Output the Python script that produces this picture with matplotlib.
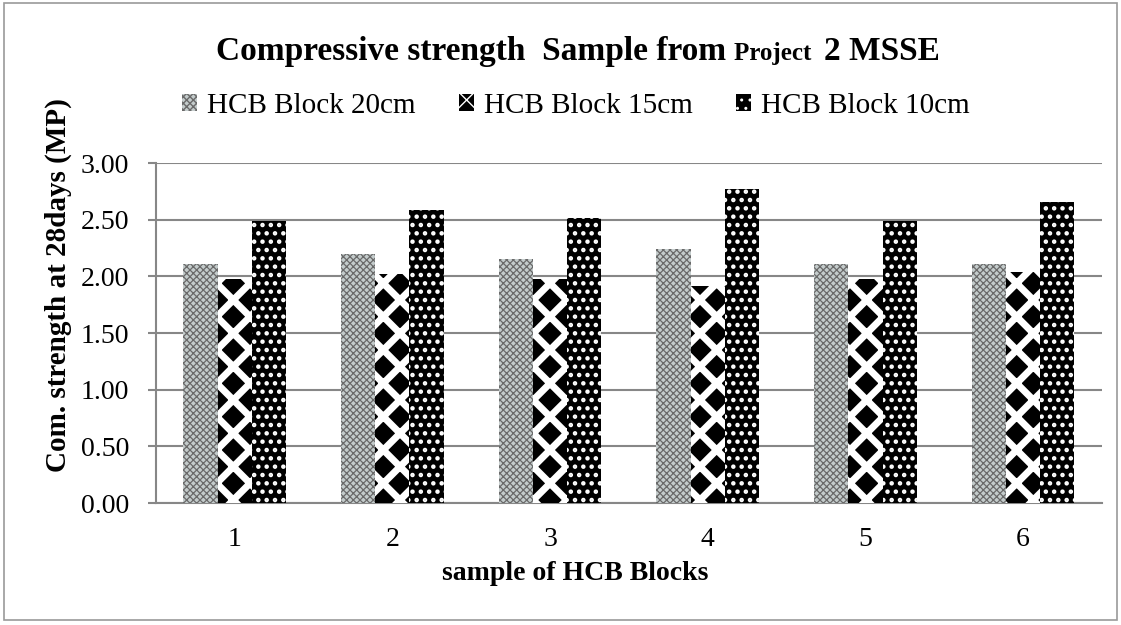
import numpy as np
import matplotlib
matplotlib.use("Agg")
import matplotlib.pyplot as plt
from matplotlib.patches import Rectangle

# compressive strength at 28 days (MPa) for each sample
samples = ["1", "2", "3", "4", "5", "6"]
block_20cm = [2.11, 2.20, 2.15, 2.24, 2.11, 2.11]
block_15cm = [1.98, 2.02, 1.98, 1.92, 1.98, 2.04]
block_10cm = [2.49, 2.59, 2.52, 2.77, 2.49, 2.66]
series_names = ["HCB Block 20cm", "HCB Block 15cm", "HCB Block 10cm"]
yticks = [0.0, 0.5, 1.0, 1.5, 2.0, 2.5, 3.0]

plt.rcParams["font.family"] = ["Liberation Serif", "DejaVu Serif"]
grey = "#878787"

fig = plt.figure(figsize=(11.21, 6.25), dpi=100)
ax = fig.add_axes([0.139, 0.195, 0.844, 0.544])

x = np.arange(len(samples))
w = 0.217

def hatched_bars(xpos, vals, face, hcolor, hatch, hlw, label):
    with plt.rc_context({"hatch.linewidth": hlw}):
        bars = ax.bar(xpos, vals, w, color=face, edgecolor=hcolor, hatch=hatch,
                      linewidth=0, label=label, zorder=3)
    for b in bars:
        if hasattr(b, "set_hatch_linewidth"):
            b.set_hatch_linewidth(hlw)
    return bars

hatched_bars(x - w, block_20cm, "#c4cccc", "#6a6a6a", "xxxxx", 0.9, series_names[0])
hatched_bars(x, block_15cm, "black", "white", "x", 5.0, series_names[1])
hatched_bars(x + w, block_10cm, "black", "white", "..", 2.0, series_names[2])

ax.set_xlim(-0.5, len(samples) - 0.5)
ax.set_ylim(0, 3.0)
ax.set_yticks(yticks)
ax.set_yticklabels([f"{v:.2f}" for v in yticks], fontsize=20)
ax.set_xticks(x)
ax.set_xticklabels(samples, fontsize=20)
ax.tick_params(axis="x", length=0, pad=17)
ax.tick_params(axis="y", length=6, width=1.5, color=grey, direction="out", pad=13)
ax.yaxis.grid(True, color=grey, linewidth=1.5, zorder=0)
for side in ["top", "right"]:
    ax.spines[side].set_visible(False)
for side in ["left", "bottom"]:
    ax.spines[side].set_color(grey)
    ax.spines[side].set_linewidth(1.5)
ax.spines["left"].set_zorder(4)

ax.legend(loc="center", bbox_to_anchor=(576 / 1121, 1 - 106 / 625), bbox_transform=fig.transFigure,
          ncol=3, frameon=False, fontsize=21, handlelength=0.5, handleheight=0.5,
          handletextpad=0.35, columnspacing=1.5, borderpad=0)

# title with a smaller "Project" part
base_y = 1 - 60 / 625
t1 = fig.text(0, base_y, "Compressive strength  Sample from ", fontsize=24,
              fontweight="bold", va="baseline", ha="left")
t2 = fig.text(0, base_y, "Project  ", fontsize=18, fontweight="bold", va="baseline")
t3 = fig.text(0, base_y, "2 MSSE", fontsize=24, fontweight="bold", va="baseline")
fig.canvas.draw()
r = fig.canvas.get_renderer()
w1 = t1.get_window_extent(r).width
w2 = t2.get_window_extent(r).width
w3 = t3.get_window_extent(r).width
x0 = 578 - (w1 + w2 + w3) / 2
t1.set_x(x0 / 1121)
t2.set_x((x0 + w1) / 1121)
t3.set_x((x0 + w1 + w2) / 1121)

fig.text(58 / 1121, 1 - 285 / 625, "Com. strength at 28days (MP)", rotation=90,
         fontsize=21, fontweight="bold", ha="center", va="center")
fig.text(575 / 1121, 1 - 574 / 625, "sample of HCB Blocks", fontsize=20,
         fontweight="bold", ha="center", va="center")

# outer chart border
fig.patches.append(Rectangle((0.004, 0.008), 0.992, 0.988, transform=fig.transFigure,
                             fill=False, edgecolor="#9a9a9a", linewidth=1.2))

fig.savefig("out.png", dpi=100)
